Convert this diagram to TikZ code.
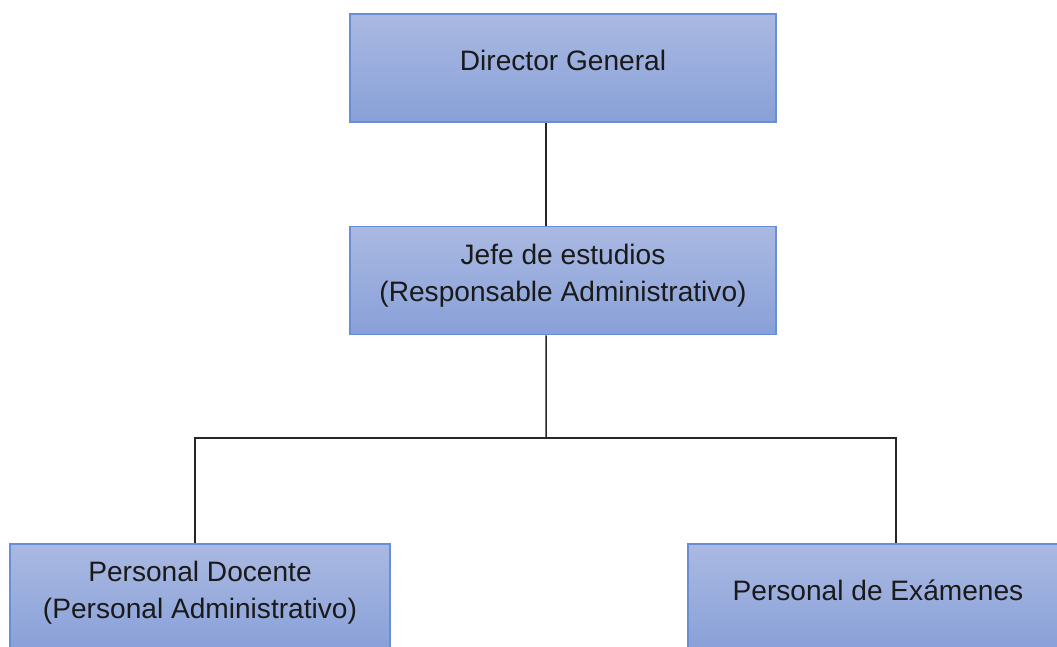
\documentclass[tikz,border=0pt]{standalone}
\usepackage{fontspec}
\setmainfont{Liberation Sans}
\usepackage{tikz}
\definecolor{boxTop}{RGB}{170,185,226}
\definecolor{boxBottom}{RGB}{136,160,216}
\definecolor{boxEdge}{RGB}{104,142,214}
\definecolor{textDark}{RGB}{26,26,26}
\tikzset{
    unitbox/.style={draw=boxEdge, line width = 0.9pt, top color=boxTop, bottom color=boxBottom,
        minimum height=2.16cm, text depth=9pt, align=center, text=textDark,
        font=\fontsize{16}{21}\selectfont},
    wideunit/.style={unitbox, minimum width=8.52cm},
    narrowunit/.style={unitbox, minimum width=7.6cm},
    link/.style={line width = 0.85pt, black!85}
}
\begin{document}
\begin{tikzpicture}[x=0.02cm, y=-0.02cm]
        \clip (0,0) rectangle (1057,646);

        % top of the chart
        \node[wideunit] (director) at (563,68) {Director General};
        \node[wideunit] (jefe) at (563,280.5) {Jefe de estudios\\(Responsable Administrativo)};

        % staff
        \node[narrowunit] (docente) at (200,598) {Personal Docente\\(Personal Administrativo)};
        \node[narrowunit] (examenes) at (878,598) {Personal de Exámenes};

        % connectors
        \coordinate (bus) at (546,438);
        \draw[link] ([xshift=-0.34cm]director.south) -- ([xshift=-0.34cm]jefe.north);
        \draw[link] ([xshift=-0.34cm]jefe.south) -- (bus);
        \draw[link] ([xshift=-0.1cm]docente.north) |- (bus) -| ([xshift=0.36cm]examenes.north);

    \end{tikzpicture}
\end{document}
